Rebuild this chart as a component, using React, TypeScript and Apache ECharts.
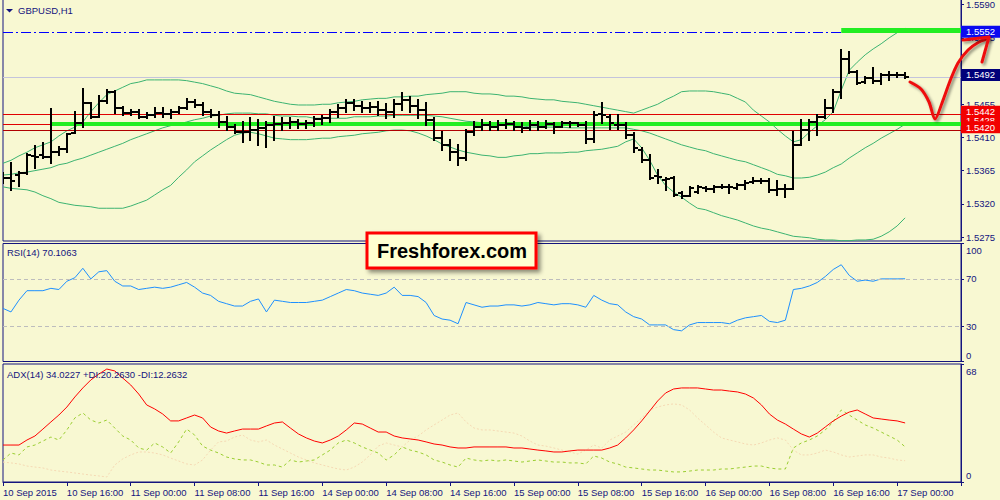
import React, { useEffect, useRef } from "react";
import * as echarts from "echarts";

// ---------- DATA ----------
const xTickLabels = [
  "10 Sep 2015", "10 Sep 16:00", "11 Sep 00:00", "11 Sep 08:00", "11 Sep 16:00",
  "14 Sep 00:00", "14 Sep 08:00", "14 Sep 16:00", "15 Sep 00:00", "15 Sep 08:00",
  "15 Sep 16:00", "16 Sep 00:00", "16 Sep 08:00", "16 Sep 16:00", "17 Sep 00:00",
];
const slotCount = 121; // hourly slots shown on the axis (114 bars + empty space on the right)

const barOpen = [
  1.5356, 1.5355, 1.5359, 1.5362, 1.5385, 1.5386, 1.5383, 1.5390, 1.5394, 1.5416,
  1.5430, 1.5457, 1.5438, 1.5459, 1.5471, 1.5450, 1.5443, 1.5445, 1.5438, 1.5441,
  1.5443, 1.5442, 1.5445, 1.5450, 1.5458, 1.5454, 1.5445, 1.5441, 1.5431, 1.5424,
  1.5417, 1.5417, 1.5420, 1.5423, 1.5427, 1.5428, 1.5430, 1.5431, 1.5428, 1.5430,
  1.5435, 1.5436, 1.5445, 1.5450, 1.5457, 1.5453, 1.5450, 1.5451, 1.5447, 1.5445,
  1.5455, 1.5461, 1.5453, 1.5447, 1.5434, 1.5409, 1.5400, 1.5390, 1.5382, 1.5417,
  1.5424, 1.5427, 1.5424, 1.5427, 1.5428, 1.5424, 1.5423, 1.5427, 1.5424, 1.5428,
  1.5424, 1.5430, 1.5430, 1.5427, 1.5408, 1.5442, 1.5438, 1.5427, 1.5427, 1.5413,
  1.5393, 1.5379, 1.5358, 1.5352, 1.5355, 1.5335, 1.5331, 1.5336, 1.5341, 1.5340,
  1.5343, 1.5343, 1.5341, 1.5346, 1.5350, 1.5351, 1.5351, 1.5339, 1.5340, 1.5340,
  1.5400, 1.5420, 1.5431, 1.5438, 1.5450, 1.5472, 1.5516, 1.5499, 1.5485, 1.5490,
  1.5487, 1.5495, 1.5495, 1.5494,
];
const barHigh = [
  1.5362, 1.5375, 1.5363, 1.5388, 1.5398, 1.5402, 1.5449, 1.5397, 1.5415, 1.5445,
  1.5476, 1.5457, 1.5466, 1.5474, 1.5473, 1.5451, 1.5447, 1.5447, 1.5443, 1.5450,
  1.5450, 1.5447, 1.5451, 1.5462, 1.5461, 1.5457, 1.5447, 1.5445, 1.5438, 1.5427,
  1.5431, 1.5436, 1.5434, 1.5431, 1.5438, 1.5436, 1.5436, 1.5434, 1.5432, 1.5438,
  1.5439, 1.5447, 1.5454, 1.5461, 1.5461, 1.5458, 1.5457, 1.5458, 1.5455, 1.5461,
  1.5470, 1.5465, 1.5461, 1.5457, 1.5436, 1.5418, 1.5407, 1.5400, 1.5420, 1.5431,
  1.5434, 1.5431, 1.5432, 1.5434, 1.5431, 1.5430, 1.5432, 1.5431, 1.5432, 1.5430,
  1.5431, 1.5431, 1.5430, 1.5431, 1.5445, 1.5457, 1.5441, 1.5441, 1.5430, 1.5416,
  1.5396, 1.5386, 1.5366, 1.5355, 1.5356, 1.5336, 1.5343, 1.5344, 1.5343, 1.5344,
  1.5346, 1.5346, 1.5347, 1.5351, 1.5355, 1.5354, 1.5354, 1.5351, 1.5346, 1.5417,
  1.5434, 1.5434, 1.5441, 1.5461, 1.5474, 1.5529, 1.5526, 1.5500, 1.5492, 1.5504,
  1.5496, 1.5499, 1.5497, 1.5497,
];
const barLow = [
  1.5348, 1.5339, 1.5344, 1.5360, 1.5369, 1.5382, 1.5375, 1.5386, 1.5390, 1.5416,
  1.5424, 1.5436, 1.5438, 1.5457, 1.5443, 1.5441, 1.5441, 1.5436, 1.5436, 1.5438,
  1.5438, 1.5436, 1.5443, 1.5449, 1.5451, 1.5441, 1.5438, 1.5424, 1.5420, 1.5416,
  1.5404, 1.5407, 1.5400, 1.5397, 1.5407, 1.5420, 1.5423, 1.5423, 1.5423, 1.5425,
  1.5428, 1.5431, 1.5438, 1.5445, 1.5447, 1.5445, 1.5445, 1.5441, 1.5436, 1.5438,
  1.5447, 1.5445, 1.5436, 1.5427, 1.5407, 1.5393, 1.5379, 1.5373, 1.5379, 1.5413,
  1.5420, 1.5420, 1.5420, 1.5423, 1.5420, 1.5417, 1.5420, 1.5420, 1.5423, 1.5416,
  1.5424, 1.5424, 1.5425, 1.5402, 1.5404, 1.5430, 1.5421, 1.5421, 1.5409, 1.5390,
  1.5377, 1.5354, 1.5348, 1.5339, 1.5331, 1.5328, 1.5331, 1.5335, 1.5337, 1.5336,
  1.5341, 1.5335, 1.5340, 1.5340, 1.5348, 1.5348, 1.5336, 1.5332, 1.5329, 1.5340,
  1.5400, 1.5407, 1.5413, 1.5436, 1.5445, 1.5463, 1.5497, 1.5483, 1.5484, 1.5484,
  1.5483, 1.5488, 1.5492, 1.5491,
];
const barClose = [
  1.5355, 1.5351, 1.5362, 1.5386, 1.5383, 1.5384, 1.5390, 1.5394, 1.5415, 1.5430,
  1.5457, 1.5438, 1.5459, 1.5472, 1.5450, 1.5443, 1.5445, 1.5438, 1.5441, 1.5443,
  1.5442, 1.5445, 1.5450, 1.5458, 1.5454, 1.5445, 1.5441, 1.5431, 1.5424, 1.5417,
  1.5417, 1.5420, 1.5423, 1.5427, 1.5428, 1.5430, 1.5431, 1.5428, 1.5430, 1.5435,
  1.5436, 1.5445, 1.5450, 1.5457, 1.5453, 1.5450, 1.5451, 1.5447, 1.5445, 1.5455,
  1.5461, 1.5453, 1.5447, 1.5434, 1.5409, 1.5400, 1.5390, 1.5382, 1.5417, 1.5424,
  1.5427, 1.5424, 1.5427, 1.5428, 1.5424, 1.5423, 1.5427, 1.5424, 1.5428, 1.5424,
  1.5430, 1.5430, 1.5427, 1.5408, 1.5441, 1.5441, 1.5430, 1.5427, 1.5413, 1.5396,
  1.5379, 1.5355, 1.5356, 1.5354, 1.5332, 1.5331, 1.5341, 1.5343, 1.5340, 1.5343,
  1.5343, 1.5343, 1.5346, 1.5348, 1.5351, 1.5351, 1.5339, 1.5340, 1.5340, 1.5400,
  1.5420, 1.5431, 1.5438, 1.5450, 1.5472, 1.5516, 1.5499, 1.5484, 1.5491, 1.5487,
  1.5495, 1.5495, 1.5494, 1.5492,
];

const bbUpper = [
  1.5375, 1.5379, 1.5385, 1.5390, 1.5396, 1.5400, 1.5404, 1.5412, 1.5419, 1.5424,
  1.5431, 1.5445, 1.5457, 1.5468, 1.5473, 1.5478, 1.5483, 1.5485, 1.5488, 1.5488,
  1.5488, 1.5488, 1.5488, 1.5487, 1.5485, 1.5483, 1.5480, 1.5477, 1.5473, 1.5470,
  1.5469, 1.5468, 1.5465, 1.5462, 1.5459, 1.5457, 1.5455, 1.5454, 1.5454, 1.5454,
  1.5455, 1.5455, 1.5457, 1.5458, 1.5459, 1.5461, 1.5462, 1.5463, 1.5463, 1.5465,
  1.5465, 1.5466, 1.5466, 1.5468, 1.5469, 1.5470, 1.5472, 1.5472, 1.5472, 1.5470,
  1.5469, 1.5469, 1.5468, 1.5466, 1.5466, 1.5465, 1.5463, 1.5462, 1.5461, 1.5461,
  1.5459, 1.5458, 1.5457, 1.5455, 1.5453, 1.5451, 1.5449, 1.5447, 1.5445, 1.5443,
  1.5447, 1.5451, 1.5455, 1.5461, 1.5466, 1.5472, 1.5473, 1.5473, 1.5473, 1.5472,
  1.5470, 1.5468, 1.5463, 1.5458, 1.5447, 1.5439, 1.5431, 1.5421, 1.5412, 1.5404,
  1.5407, 1.5417, 1.5426, 1.5434, 1.5445, 1.5474, 1.5501, 1.5512, 1.5522, 1.5530,
  1.5537, 1.5545, 1.5552, 1.5558,
];
const bbMiddle = [
  1.5359, 1.5360, 1.5362, 1.5363, 1.5365, 1.5367, 1.5369, 1.5373, 1.5375, 1.5379,
  1.5382, 1.5386, 1.5390, 1.5394, 1.5398, 1.5402, 1.5407, 1.5411, 1.5415, 1.5419,
  1.5423, 1.5426, 1.5428, 1.5431, 1.5434, 1.5436, 1.5439, 1.5440, 1.5442, 1.5443,
  1.5443, 1.5443, 1.5442, 1.5442, 1.5440, 1.5439, 1.5439, 1.5438, 1.5438, 1.5436,
  1.5436, 1.5436, 1.5436, 1.5436, 1.5438, 1.5438, 1.5438, 1.5439, 1.5439, 1.5440,
  1.5440, 1.5440, 1.5440, 1.5440, 1.5439, 1.5438, 1.5436, 1.5434, 1.5432, 1.5431,
  1.5430, 1.5428, 1.5427, 1.5427, 1.5426, 1.5426, 1.5424, 1.5424, 1.5424, 1.5424,
  1.5424, 1.5423, 1.5423, 1.5423, 1.5423, 1.5423, 1.5423, 1.5423, 1.5423, 1.5421,
  1.5419, 1.5416, 1.5412, 1.5408, 1.5404, 1.5400, 1.5397, 1.5394, 1.5392, 1.5388,
  1.5385, 1.5382, 1.5379, 1.5377, 1.5373, 1.5369, 1.5365, 1.5360, 1.5358, 1.5355,
  1.5355, 1.5356, 1.5359, 1.5363, 1.5369, 1.5374, 1.5382, 1.5389, 1.5396, 1.5402,
  1.5409, 1.5415, 1.5421, 1.5428,
];
const bbLower = [
  1.5343, 1.5341, 1.5340, 1.5339, 1.5336, 1.5331, 1.5327, 1.5322, 1.5320, 1.5318,
  1.5317, 1.5316, 1.5314, 1.5314, 1.5314, 1.5314, 1.5317, 1.5321, 1.5325, 1.5332,
  1.5339, 1.5345, 1.5356, 1.5366, 1.5377, 1.5385, 1.5393, 1.5400, 1.5407, 1.5413,
  1.5416, 1.5417, 1.5415, 1.5412, 1.5409, 1.5408, 1.5407, 1.5407, 1.5407, 1.5408,
  1.5409, 1.5409, 1.5411, 1.5412, 1.5413, 1.5415, 1.5416, 1.5417, 1.5419, 1.5420,
  1.5420, 1.5419, 1.5416, 1.5412, 1.5407, 1.5401, 1.5397, 1.5393, 1.5390, 1.5388,
  1.5386, 1.5385, 1.5383, 1.5383, 1.5385, 1.5386, 1.5388, 1.5388, 1.5389, 1.5389,
  1.5389, 1.5390, 1.5390, 1.5392, 1.5393, 1.5394, 1.5396, 1.5398, 1.5404, 1.5408,
  1.5396, 1.5379, 1.5359, 1.5345, 1.5336, 1.5329, 1.5321, 1.5314, 1.5312, 1.5308,
  1.5304, 1.5301, 1.5298, 1.5294, 1.5290, 1.5287, 1.5285, 1.5282, 1.5279, 1.5276,
  1.5275, 1.5274, 1.5272, 1.5271, 1.5271, 1.5270, 1.5270, 1.5271, 1.5271, 1.5272,
  1.5276, 1.5282, 1.5290, 1.5301,
];

const rsiValues = [
  45, 42, 52, 60, 60, 60, 62, 61, 68, 71,
  79, 70, 76, 77, 68, 64, 64, 61, 62, 63,
  62, 63, 65, 67, 63, 58, 56, 51, 49, 47,
  47, 51, 53, 42, 52, 51, 50, 50, 50, 51,
  52, 55, 58, 61, 60, 58, 57, 56, 58, 63,
  56, 56, 55, 50, 39, 36, 35, 32, 50, 48,
  46, 47, 47, 48, 48, 47, 48, 50, 49, 48,
  49, 49, 48, 46, 56, 52, 49, 48, 42, 38,
  36, 31, 31, 31, 27, 26, 31, 33, 33, 33,
  33, 32, 35, 37, 38, 39, 34, 33, 35, 61,
  62, 64, 67, 72, 78, 82, 73, 68, 69, 68,
  70, 70, 70, 70.1063,
];
const rsiLevels = [70, 30];

const adxMain = [
  21.3, 21.3, 21.3, 24.2, 26.5, 30.5, 34.6, 38.6, 43.2, 49.0,
  54.2, 58.8, 62.2, 65.1, 64.0, 59.9, 55.9, 50.7, 44.4, 42.1,
  39.2, 35.2, 35.2, 36.9, 38.6, 36.9, 31.7, 29.4, 28.2, 29.4,
  30.5, 30.5, 30.5, 32.3, 34.0, 34.6, 31.1, 27.7, 25.4, 23.6,
  22.5, 24.2, 26.5, 30.0, 34.0, 33.4, 31.1, 28.8, 28.8, 26.5,
  25.4, 24.8, 24.2, 23.1, 21.9, 21.3, 20.2, 19.6, 19.6, 20.2,
  20.2, 20.2, 20.2, 20.2, 19.6, 19.6, 19.0, 18.4, 17.9, 17.3,
  17.3, 17.9, 18.4, 18.4, 18.4, 18.4, 19.6, 21.3, 25.4, 30.0,
  35.2, 40.9, 46.7, 51.3, 53.6, 54.2, 54.2, 54.2, 53.6, 53.0,
  53.0, 52.4, 51.9, 50.7, 48.4, 44.4, 39.2, 35.7, 33.4, 30.5,
  27.7, 25.9, 28.2, 31.7, 35.2, 38.0, 40.3, 41.5, 39.2, 36.9,
  36.3, 35.7, 35.2, 34.0227,
];
const adxPlusDI = [
  12.7, 16.7, 15.6, 20.2, 21.3, 23.6, 25.9, 24.2, 30.0, 36.9,
  39.8, 35.7, 34.0, 35.7, 31.1, 26.5, 24.2, 19.6, 18.4, 22.5,
  20.2, 16.7, 23.1, 30.5, 27.1, 20.7, 18.4, 16.7, 14.4, 13.3,
  12.7, 12.7, 11.5, 9.8, 9.8, 8.6, 12.7, 11.5, 12.1, 12.7,
  15.6, 18.4, 22.5, 24.2, 22.5, 20.2, 18.4, 16.7, 12.7, 15.6,
  20.2, 18.4, 17.3, 15.6, 12.7, 11.5, 9.8, 8.6, 13.8, 12.7,
  12.1, 12.7, 12.1, 12.7, 12.1, 11.5, 12.1, 12.7, 12.1, 11.5,
  11.5, 11.0, 11.0, 10.4, 15.0, 13.8, 11.5, 10.4, 8.6, 8.1,
  7.5, 6.9, 6.9, 6.3, 5.8, 5.8, 6.3, 6.9, 6.9, 6.9,
  7.5, 7.5, 8.1, 8.6, 9.2, 9.2, 8.1, 7.5, 7.5, 19.6,
  22.5, 24.2, 26.5, 30.0, 34.6, 41.5, 38.6, 35.7, 32.9, 31.1,
  28.8, 26.5, 24.2, 20.263,
];
const adxMinusDI = [
  11.5, 11.0, 10.4, 9.2, 8.6, 8.1, 6.9, 6.3, 5.8, 5.2,
  4.6, 4.0, 3.5, 2.9, 9.8, 13.3, 15.6, 17.3, 17.3, 16.7,
  15.6, 13.8, 12.1, 10.4, 9.8, 12.7, 18.4, 23.1, 23.6, 25.9,
  27.1, 24.2, 23.1, 24.2, 21.3, 19.0, 16.7, 14.4, 12.7, 11.0,
  9.8, 8.6, 7.5, 6.9, 8.6, 11.5, 15.6, 20.7, 22.5, 21.3,
  20.2, 24.2, 26.5, 30.0, 32.9, 35.7, 38.6, 39.8, 34.6, 31.1,
  30.0, 30.0, 29.4, 28.8, 28.2, 26.5, 23.6, 21.3, 20.7, 19.6,
  18.4, 17.3, 16.1, 18.4, 21.3, 19.6, 24.2, 26.5, 28.8, 32.9,
  36.9, 41.5, 43.2, 44.4, 45.0, 44.4, 41.5, 36.9, 32.9, 28.8,
  25.4, 24.2, 23.1, 21.9, 21.3, 22.5, 24.2, 25.4, 24.2, 18.4,
  15.6, 15.6, 16.7, 18.4, 17.3, 15.6, 14.4, 15.0, 15.6, 15.6,
  14.4, 13.8, 12.7, 12.2632,
];

const priceTicks = [1.5275, 1.532, 1.5365, 1.541, 1.5455, 1.55, 1.5545, 1.559];
const rsiTicks = [0, 30, 70, 100];
const adxTicks = [0, 68];

const resistanceLevel = 1.5552;
const bidLevel = 1.5492;
const redLevels = [1.5428, 1.5442, 1.542]; // drawn in this order (later ones on top)
const greenTopLevel = 1.5556;
const greenTopStart = 105;
const greenMidLevel = 1.5428;
const greenMidStart = 6;

// ---------- STYLE ----------
const BG = "#f8f8d2";
const NAVY = "#14147e";
const FONT = "'Liberation Sans', Arial, sans-serif";
const FS = 9.5;

function buildOption(): any {
  const categories = Array.from({ length: slotCount }, (_, i) => String(i));
  const grids = [
    { left: 3, right: 39, top: -1, height: 242 },
    { left: 3, right: 39, top: 243.5, height: 118 },
    { left: 3, right: 39, top: 364, height: 118 },
  ].map((g) => ({
    ...g,
    show: true,
    borderColor: NAVY,
    borderWidth: 1,
    backgroundColor: "transparent",
    containLabel: false,
    outerBoundsMode: "none",
  }));

  const xAxes = [0, 1, 2].map((g) => ({
    type: "category",
    gridIndex: g,
    data: categories,
    boundaryGap: false,
    axisLine: { show: g === 2, lineStyle: { color: NAVY, width: 1 } },
    axisTick: { show: g === 2, interval: 7, length: 4, lineStyle: { color: NAVY } },
    axisLabel: {
      show: g === 2,
      interval: 7,
      align: "left",
      margin: 5,
      color: NAVY,
      fontSize: FS,
      fontFamily: FONT,
      formatter: (_v: string, idx: number) => (idx % 8 === 0 && xTickLabels[idx / 8]) || "",
    },
    splitLine: { show: false },
  }));

  const yBase = {
    type: "value",
    position: "right",
    axisLine: { show: true, lineStyle: { color: NAVY } },
    splitLine: { show: false },
  };
  const yAxes = [
    {
      ...yBase,
      gridIndex: 0,
      min: 1.52696,
      max: 1.55977,
      axisTick: { show: true, length: 3, customValues: priceTicks, lineStyle: { color: NAVY } },
      axisLabel: {
        customValues: priceTicks,
        formatter: (v: number) => v.toFixed(4),
        color: NAVY,
        fontSize: FS,
        fontFamily: FONT,
        margin: 5,
      },
    },
    {
      ...yBase,
      gridIndex: 1,
      min: 0,
      max: 100,
      axisTick: { show: true, length: 3, customValues: rsiTicks, lineStyle: { color: NAVY } },
      axisLabel: {
        customValues: rsiTicks,
        margin: 5,
        color: NAVY,
        fontSize: FS,
        fontFamily: FONT,
        formatter: (v: number) => (v === 100 ? "{t|100}" : v === 0 ? "{b|0}" : String(v)),
        rich: {
          t: { padding: [14, 0, 0, 0], color: NAVY, fontSize: FS, fontFamily: FONT },
          b: { padding: [0, 0, 12, 0], color: NAVY, fontSize: FS, fontFamily: FONT },
        },
      },
    },
    {
      ...yBase,
      gridIndex: 2,
      min: 0,
      max: 68,
      axisTick: { show: true, length: 3, customValues: adxTicks, lineStyle: { color: NAVY } },
      axisLabel: {
        customValues: adxTicks,
        margin: 5,
        color: NAVY,
        fontSize: FS,
        fontFamily: FONT,
        formatter: (v: number) => (v === 68 ? "{t|68}" : "{b|0}"),
        rich: {
          t: { padding: [15, 0, 0, 0], color: NAVY, fontSize: FS, fontFamily: FONT },
          b: { padding: [0, 0, 14, 0], color: NAVY, fontSize: FS, fontFamily: FONT },
        },
      },
    },
  ];

  const priceLabel = (text: string, bg: string, dy: number) => ({
    show: true,
    position: "end",
    distance: 0,
    offset: [0, dy],
    formatter: text,
    backgroundColor: bg,
    color: "#ffffff",
    fontSize: FS,
    fontFamily: FONT,
    padding: [1, 4, 1, 5],
    width: 30,
    lineHeight: 10,
    align: "left",
  });

  const ohlcData = barOpen.map((o, i) => [i, o, barHigh[i], barLow[i], barClose[i]]);

  const lineBase = {
    type: "line",
    symbol: "none",
    showSymbol: false,
    silent: true,
    animation: false,
  };

  const redLabelShift: Record<string, number> = { "1.5442": -2, "1.5428": -3.5, "1.5420": -2.8 };

  const series: any[] = [
    {
      ...lineBase,
      name: "levels",
      xAxisIndex: 0,
      yAxisIndex: 0,
      data: [],
      z: 2,
      markLine: {
        silent: true,
        precision: 4,
        symbol: ["none", "none"],
        animation: false,
        data: [
          {
            yAxis: bidLevel,
            lineStyle: { color: "#c4c4dc", width: 1, type: "solid" },
            label: priceLabel(bidLevel.toFixed(4), "#00007a", -2),
          },
          {
            yAxis: resistanceLevel,
            lineStyle: { color: "#0000ff", width: 1, type: [10, 3, 2, 3] },
            label: priceLabel(resistanceLevel.toFixed(4), "#0a0af0", -1),
          },
          ...redLevels.map((lv) => ({
            yAxis: lv,
            lineStyle: { color: lv === 1.542 ? "#b00000" : "#e00000", width: 1, type: "solid" },
            label: priceLabel(lv.toFixed(4), "#f20000", redLabelShift[lv.toFixed(4)] ?? 0),
          })),
        ],
      },
    },
    {
      ...lineBase,
      name: "zones",
      xAxisIndex: 0,
      yAxisIndex: 0,
      data: [],
      z: 3,
      markLine: {
        silent: true,
        precision: 4,
        symbol: ["none", "none"],
        animation: false,
        label: { show: false },
        data: [
          [
            {
              coord: [greenMidStart, greenMidLevel],
              lineStyle: {
                color: "#c2f5a8",
                width: 10,
                type: "solid",
                shadowColor: "rgba(60,60,40,0.35)",
                shadowBlur: 4,
                shadowOffsetY: 3,
              },
            },
            { coord: [slotCount - 1, greenMidLevel] },
          ],
          [
            { coord: [greenMidStart, greenMidLevel], lineStyle: { color: "#22ee22", width: 4, type: "solid" } },
            { coord: [slotCount - 1, greenMidLevel] },
          ],
          [
            {
              coord: [greenTopStart, greenTopLevel],
              lineStyle: {
                color: "#c2f5a8",
                width: 9,
                type: "solid",
                shadowColor: "rgba(60,60,40,0.35)",
                shadowBlur: 4,
                shadowOffsetY: 3,
              },
            },
            { coord: [slotCount - 1, greenTopLevel] },
          ],
          [
            { coord: [greenTopStart, greenTopLevel], lineStyle: { color: "#22ee22", width: 5, type: "solid" } },
            { coord: [slotCount - 1, greenTopLevel] },
          ],
        ],
      },
    },
    ...[bbUpper, bbMiddle, bbLower].map((arr, k) => ({
      ...lineBase,
      name: ["BB upper", "BB middle", "BB lower"][k],
      xAxisIndex: 0,
      yAxisIndex: 0,
      data: arr,
      z: 4,
      lineStyle: { color: "#3cb371", width: 1 },
    })),
    {
      type: "custom",
      name: "GBPUSD",
      xAxisIndex: 0,
      yAxisIndex: 0,
      z: 5,
      silent: true,
      clip: true,
      encode: { x: 0, y: [1, 2, 3, 4] },
      data: ohlcData,
      renderItem: (_params: any, api: any) => {
        const i = api.value(0);
        const pO = api.coord([i, api.value(1)]);
        const pH = api.coord([i, api.value(2)]);
        const pL = api.coord([i, api.value(3)]);
        const pC = api.coord([i, api.value(4)]);
        const x = Math.round(pO[0]);
        const st = { stroke: "#000000", lineWidth: 2 };
        return {
          type: "group",
          children: [
            { type: "line", shape: { x1: x, y1: Math.round(pH[1]) - 1, x2: x, y2: Math.round(pL[1]) + 1 }, style: st },
            { type: "line", shape: { x1: x - 4, y1: Math.round(pO[1]), x2: x, y2: Math.round(pO[1]) }, style: st },
            { type: "line", shape: { x1: x, y1: Math.round(pC[1]), x2: x + 4, y2: Math.round(pC[1]) }, style: st },
          ],
        };
      },
    },
    {
      ...lineBase,
      name: "RSI(14)",
      xAxisIndex: 1,
      yAxisIndex: 1,
      data: rsiValues,
      lineStyle: { color: "#1e90ff", width: 1 },
      markLine: {
        silent: true,
        symbol: ["none", "none"],
        animation: false,
        label: { show: false },
        lineStyle: { color: "#bdbdbd", width: 1, type: [4, 3] },
        data: rsiLevels.map((v) => ({ yAxis: v })),
      },
    },
    {
      ...lineBase,
      name: "-DI",
      xAxisIndex: 2,
      yAxisIndex: 2,
      data: adxMinusDI,
      lineStyle: { color: "#f5d9b4", width: 1, type: [2, 2] },
    },
    {
      ...lineBase,
      name: "+DI",
      xAxisIndex: 2,
      yAxisIndex: 2,
      data: adxPlusDI,
      lineStyle: { color: "#9acd32", width: 1, type: [3, 3] },
    },
    {
      ...lineBase,
      name: "ADX(14)",
      xAxisIndex: 2,
      yAxisIndex: 2,
      data: adxMain,
      lineStyle: { color: "#ff0000", width: 1 },
    },
  ];

  const hdr = (x: number, y: number, text: string) => ({
    type: "text",
    x,
    y,
    z: 50,
    silent: true,
    style: { text, fill: NAVY, font: `${FS}px ${FONT}`, textVerticalAlign: "middle", verticalAlign: "middle" },
  });

  const arrowStyle = {
    stroke: "#ee1010",
    lineWidth: 3,
    fill: "none",
    lineCap: "round",
    lineJoin: "round",
    shadowColor: "rgba(0,0,0,0.45)",
    shadowBlur: 3,
    shadowOffsetX: 2,
    shadowOffsetY: 2,
  };

  const graphic = [
    {
      type: "polygon",
      z: 50,
      silent: true,
      shape: { points: [[6, 9], [13, 9], [9.5, 12.5]] },
      style: { fill: NAVY },
    },
    hdr(18, 10.5, "GBPUSD,H1"),
    hdr(7, 252.7, "RSI(14) 70.1063"),
    hdr(7, 374, "ADX(14) 34.0227 +DI:20.2630 -DI:12.2632"),
    {
      type: "group",
      z: 60,
      silent: true,
      children: [
        {
          type: "rect",
          shape: { x: 367, y: 233, width: 169, height: 35 },
          style: {
            fill: "#ffffd0",
            stroke: "#ff0000",
            lineWidth: 3,
            shadowColor: "rgba(0,0,0,0.45)",
            shadowBlur: 4,
            shadowOffsetX: 3,
            shadowOffsetY: 3,
          },
        },
        {
          type: "text",
          x: 452,
          y: 251,
          style: {
            text: "Freshforex.com",
            fill: "#000000",
            font: `bold 20px ${FONT}`,
            textAlign: "center",
            textVerticalAlign: "middle",
            align: "center",
            verticalAlign: "middle",
          },
        },
      ],
    },
    {
      type: "polyline",
      z: 55,
      silent: true,
      shape: {
        points: [[910, 82], [921, 89], [929, 102], [935, 119], [942, 103], [950, 81], [958, 63], [968, 50], [979, 42], [989, 38]],
        smooth: 0.3,
      },
      style: arrowStyle,
    },
    {
      type: "polyline",
      z: 55,
      silent: true,
      shape: { points: [[963, 40], [989, 37], [982, 62]] },
      style: arrowStyle,
    },
  ];

  return {
    animation: false,
    backgroundColor: BG,
    textStyle: { fontFamily: FONT },
    tooltip: { show: false },
    grid: grids,
    xAxis: xAxes,
    yAxis: yAxes,
    series,
    graphic,
  };
}

export default function App() {
  const ref = useRef<HTMLDivElement>(null);
  useEffect(() => {
    if (!ref.current) return;
    const chart = echarts.init(ref.current, null, { renderer: "svg" });
    chart.setOption(buildOption());
    return () => chart.dispose();
  }, []);
  return (
    <div
      ref={ref}
      style={{ position: "absolute", left: 0, top: 0, width: 1000, height: 500, background: BG }}
    />
  );
}
